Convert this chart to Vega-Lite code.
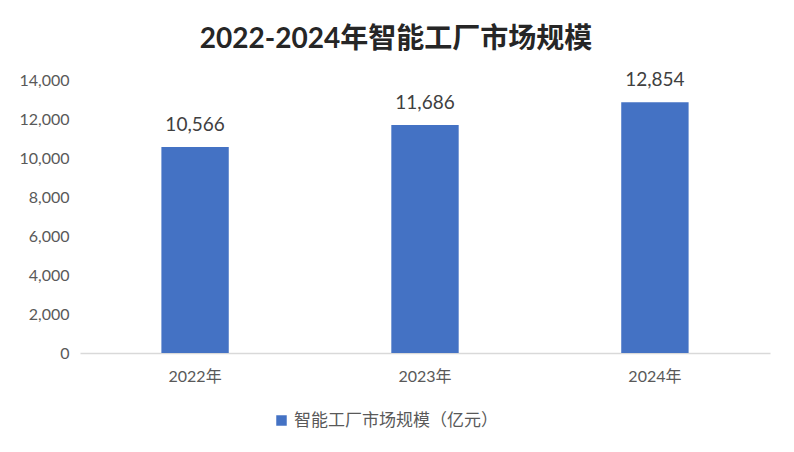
{
  "$schema": "https://vega.github.io/schema/vega-lite/v6.json",
  "autosize": "none",
  "width": 690,
  "height": 273,
  "padding": {"left": 80, "top": 80, "right": 24, "bottom": 99},
  "background": "white",
  "title": {
    "text": "2022-2024年智能工厂市场规模",
    "font": "Lato, Noto Sans CJK SC",
    "fontSize": 28,
    "fontWeight": "bold",
    "color": "#262626",
    "anchor": "middle",
    "frame": "group",
    "baseline": "middle",
    "offset": 3,
    "dx": -29
  },
  "data": {
    "values": [
      {"year": "2022年", "value": 10566, "series": "智能工厂市场规模（亿元）"},
      {"year": "2023年", "value": 11686, "series": "智能工厂市场规模（亿元）"},
      {"year": "2024年", "value": 12854, "series": "智能工厂市场规模（亿元）"}
    ]
  },
  "encoding": {
    "x": {
      "field": "year", "type": "nominal", "sort": null,
      "scale": {"paddingInner": 0.707, "paddingOuter": 0.354},
      "axis": {
        "title": null, "labelAngle": 0, "ticks": false, "domain": true,
        "domainColor": "#d9d9d9", "domainWidth": 1.5, "labelPadding": 15,
        "labelFont": "Lato, Noto Sans CJK SC", "labelFontSize": 16, "labelColor": "#595959"
      }
    },
    "y": {
      "field": "value", "type": "quantitative",
      "scale": {"domain": [0, 14000]},
      "axis": {
        "title": null, "values": [0, 2000, 4000, 6000, 8000, 10000, 12000, 14000],
        "format": ",d", "grid": false, "domain": false, "ticks": false, "labelPadding": 11,
        "labelFont": "Lato, Noto Sans CJK SC", "labelFontSize": 16, "labelColor": "#595959"
      }
    }
  },
  "layer": [
    {
      "mark": {"type": "bar"},
      "encoding": {
        "color": {
          "field": "series", "type": "nominal",
          "scale": {"range": ["#4472c4"]},
          "legend": {
            "title": null, "orient": "none", "legendX": 193, "legendY": 332, "direction": "horizontal",
            "symbolType": "square", "symbolSize": 110, "labelLimit": 400,
            "labelFont": "Lato, Noto Sans CJK SC", "labelFontSize": 17, "labelColor": "#595959"
          }
        }
      }
    },
    {
      "mark": {"type": "text", "dy": -22, "font": "Lato, Noto Sans CJK SC", "fontSize": 19, "color": "#404040", "baseline": "middle"},
      "encoding": {
        "text": {"field": "value", "type": "quantitative", "format": ",d"}
      }
    }
  ],
  "config": {"view": {"stroke": null}}
}
